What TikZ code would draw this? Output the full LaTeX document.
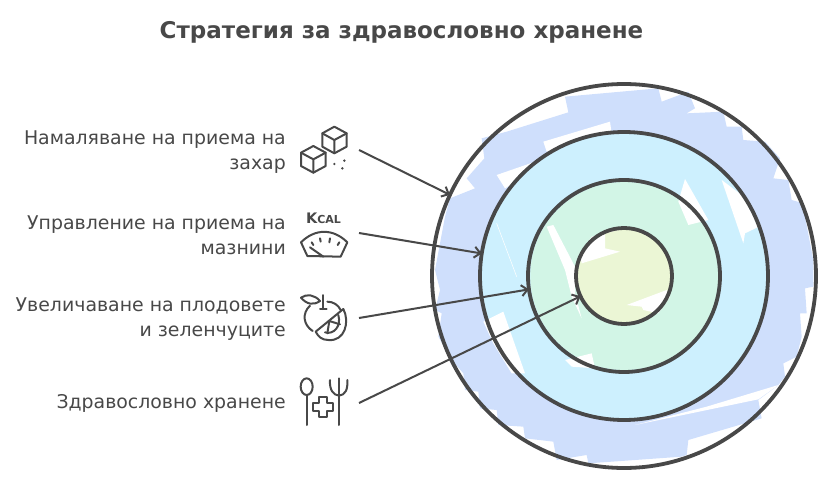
\documentclass[tikz,border=0pt]{standalone}
\usepackage{fontspec}
\setmainfont{DejaVu Sans}
\usepackage{xcolor}
\usetikzlibrary{arrows.meta}
\definecolor{inkgray}{HTML}{484848}
\definecolor{bandblue}{HTML}{CFDFFC}
\definecolor{bandcyan}{HTML}{CDF0FE}
\definecolor{bandgreen}{HTML}{D2F5E6}
\definecolor{bandlime}{HTML}{EBF6D5}
\tikzset{
  ring/.style={circle,draw=inkgray,line width=3.8pt,inner sep=0pt,outer sep=0pt},
  labeltext/.style={anchor=east,align=right,text=inkgray,font=\fontsize{18.9}{25}\selectfont,inner sep=0pt},
  pointer/.style={draw=inkgray,line width=2pt,-{Straight Barb[length=6pt,width=11pt]}},
  iconline/.style={draw=inkgray,line width=2pt,line cap=round,line join=round}
}
\begin{document}
\begin{tikzpicture}[x=1pt,y=-1pt]
  \useasboundingbox (0,0) rectangle (830,482);
  \node[text=inkgray,font=\fontsize{23}{26}\selectfont\bfseries,inner sep=0pt] (title) at (401.5,32) {Стратегия за здравословно хранене};

  % coloured bands, coordinates read from the 3x crop
  \begin{scope}[shift={(425,80)},scale=1/3]
    \path[fill=bandblue] (420,50) -- (700,25) -- (710,65) -- (790,35) -- (810,85) -- (785,100) -- (895,95) -- (905,140) -- (950,140) -- (955,180) -- (1020,185) -- (1065,235) -- (1045,295) -- (1090,300) -- (1100,360) -- (1135,370) -- (1140,410) -- (1165,540) -- (1165,620) -- (1140,625) -- (1145,700) -- (1125,700) -- (1130,770) -- (1115,830) -- (1075,850) -- (1080,890) -- (1060,915) -- (1000,960) -- (1010,1015) -- (790,1080) -- (785,1125) -- (770,1130) -- (490,1150) -- (485,1125) -- (395,1140) -- (385,1085) -- (300,1075) -- (295,1040) -- (220,1035) -- (215,990) -- (165,985) -- (160,935) -- (120,930) -- (115,880) -- (80,840) -- (40,770) -- (50,700) -- (30,690) -- (45,630) -- (30,570) -- (60,410) -- (75,355) -- (150,325) -- (125,295) -- (178,235) -- (170,175) -- (245,155) -- (430,97) -- cycle;
    \path[fill=white] (355,185) -- (555,125) -- (560,160) -- (365,215) -- cycle;
    \path[fill=white] (215,285) -- (345,240) -- (300,290) -- (240,325) -- cycle;
    \path[fill=white] (630,1035) -- (1000,958) -- (1060,915) -- (845,980) -- cycle;
    \path[fill=bandcyan] (598,588) circle (430);
    \path[fill=white] (890,300) -- (950,345) -- (1002,440) -- (960,460) -- (955,490) -- cycle;
    \path[fill=white] (175,725) -- (235,695) -- (300,880) -- (260,880) -- (205,790) -- cycle;
    \draw[white,line width=.5pt] (215,430) -- (275,590);
    \path[fill=bandgreen] (598,588) circle (282);
    \path[fill=white] (780,297) -- (850,420) -- (790,435) -- (760,365) -- cycle;
    \path[fill=white] (365,440) -- (385,435) -- (450,560) -- (450,640) -- (470,715) -- (440,650) -- (420,570) -- cycle;
    \path[fill=white] (420,840) -- (500,820) -- (510,865) -- (440,860) -- cycle;
    \path[fill=bandlime] (598,588) circle (140);
    \path[fill=white] (470,550) -- (585,515) -- (540,505) -- (540,455) -- (600,445) -- (500,470) -- (465,520) -- cycle;
    \path[fill=white] (605,675) -- (725,630) -- (735,650) -- (700,700) -- (655,690) -- (650,680) -- cycle;
  \end{scope}

  \node[ring,minimum size=384pt] (bluering) at (624,276) {};
  \node[ring,minimum size=288pt] (cyanring) at (624,276) {};
  \node[ring,minimum size=192pt] (greenring) at (624,276) {};
  \node[ring,minimum size=96pt] (limering) at (624,276) {};

  \node[labeltext] (sugartext) at (286,152) {Намаляване на приема на\\захар};
  \node[labeltext] (fattext) at (286,235) {Управление на приема на\\мазнини};
  \node[labeltext] (fruittext) at (286,319) {Увеличаване на плодовете\\и зеленчуците};
  \node[labeltext] (healthtext) at (286,403) {Здравословно хранене};

  \coordinate (sugarstart) at (359,150);
  \coordinate (fatstart) at (359,233);
  \coordinate (fruitstart) at (359,318);
  \coordinate (healthstart) at (359,403);
  \draw[pointer] (sugarstart) -- (bluering.155);
  \draw[pointer] (fatstart) -- (cyanring.171);
  \draw[pointer] (fruitstart) -- (greenring.188);
  \draw[pointer] (healthstart) -- (limering.205);

  % sugar cubes
  \begin{scope}[shift={(290,110)},scale=1/3]
    \draw[iconline] (133,50) -- (170,70) -- (170,110) -- (133,130) -- (97,110) -- (97,70) -- cycle;
    \draw[iconline] (97,70) -- (133,90) -- (170,70) (133,90) -- (133,130);
    \draw[iconline] (70,108) -- (107,128) -- (107,168) -- (70,188) -- (33,168) -- (33,128) -- cycle;
    \draw[iconline] (33,128) -- (70,148) -- (107,128) (70,148) -- (70,188);
    \path[fill=inkgray] (133,162) circle (4) (163,152) circle (4) (157,175) circle (4);
  \end{scope}
  % scale with kcal
  \node[text=inkgray,font=\fontsize{14.5}{16}\selectfont\bfseries,inner sep=0pt] (kcaltext) at (323.5,218.5) {K\fontsize{11}{12}\selectfont CAL};
  \begin{scope}[shift={(290,110)},scale=1/3]
    \draw[iconline] (33,397) .. controls (75,355) and (130,355) .. (172,397) -- (152,440) -- (52,438) -- cycle;
    \draw[iconline] (60,412) -- (100,440);
    \draw[iconline] (65,397) -- (70,405) (90,385) -- (92,395) (120,385) -- (118,397) (148,397) -- (143,405);
  \end{scope}
  % fruit
  \begin{scope}[shift={(290,285)},scale=1/3]
    \draw[iconline] (33,38) .. controls (50,25) and (75,30) .. (90,48) .. controls (70,62) and (50,58) .. (33,38) -- cycle;
    \draw[iconline] (100,30) -- (100,72) (90,72) -- (110,72);
    \draw[iconline] (60,62) .. controls (35,85) and (40,120) .. (68,138);
    \draw[iconline] (112,50) .. controls (130,50) and (145,60) .. (152,75);
    \draw[iconline] (77,140) -- (160,72) .. controls (180,110) and (165,170) .. (115,165) .. controls (95,165) and (85,155) .. (77,140) -- cycle;
    \draw[iconline] (105,142) .. controls (130,150) and (155,125) .. (145,90);
    \draw[iconline] (118,108) -- (112,145) (118,108) -- (150,118);
  \end{scope}
  % spoon, cross and fork
  \begin{scope}[shift={(290,285)},scale=1/3]
    \draw[iconline] (50,305) ellipse (18 and 25);
    \draw[iconline] (50,330) -- (50,420);
    \draw[iconline] (120,285) .. controls (118,315) and (130,330) .. (147,332) .. controls (165,330) and (174,315) .. (172,285);
    \draw[iconline] (147,280) -- (147,420);
    \draw[iconline] (87,335) -- (110,335) -- (110,355) -- (130,355) -- (130,377) -- (110,377) -- (110,397) -- (87,397) -- (87,377) -- (68,377) -- (68,355) -- (87,355) -- cycle;
  \end{scope}
\end{tikzpicture}
\end{document}
